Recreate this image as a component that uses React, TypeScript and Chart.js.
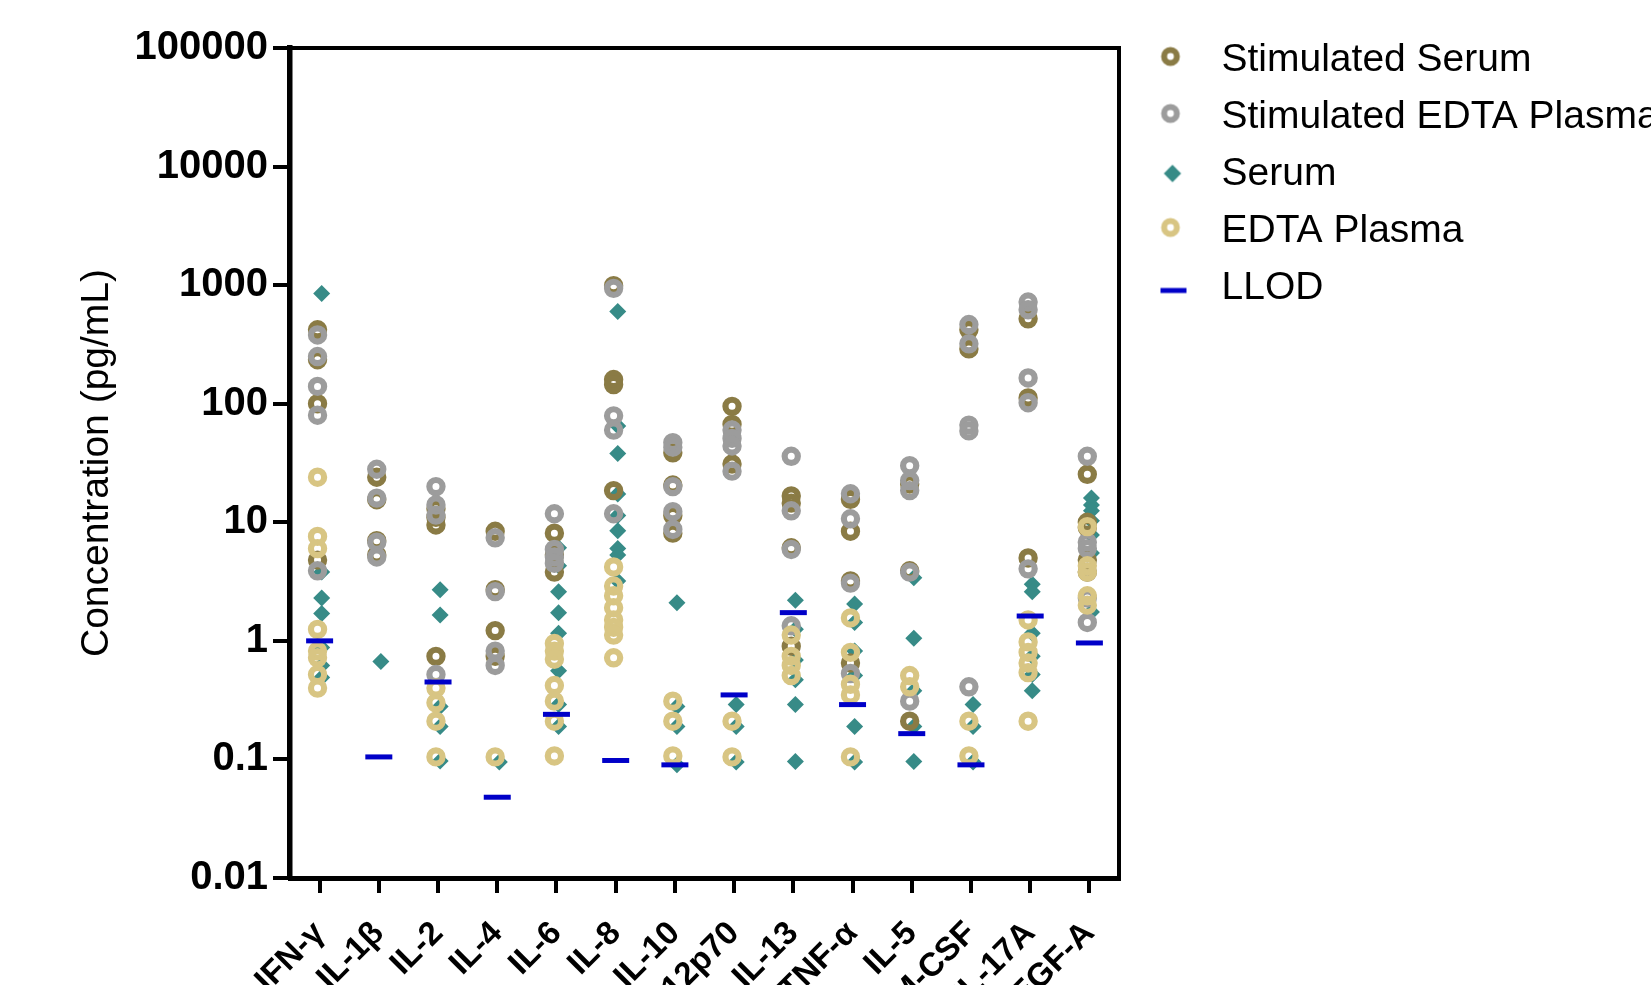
import React, { useEffect, useRef } from 'react';
import { Chart, registerables } from 'chart.js';

Chart.register(...registerables);

const CATEGORIES = ['IFN-γ', 'IL-1β', 'IL-2', 'IL-4', 'IL-6', 'IL-8', 'IL-10', 'IL-12p70', 'IL-13', 'TNF-α', 'IL-5', 'GM-CSF', 'IL-17A', 'VEGF-A'];
const Y_TICKS = [0.01, 0.1, 1, 10, 100, 1000, 10000, 100000];
const Y_TICK_LABELS = ['0.01', '0.1', '1', '10', '100', '1000', '10000', '100000'];
const Y_TITLE = 'Concentration (pg/mL)';
const SERIES_NAMES = ['Stimulated Serum', 'Stimulated EDTA Plasma', 'Serum', 'EDTA Plasma', 'LLOD'];

const STIM_SERUM: number[][] = [
  [420, 235, 100, 4.8],
  [24, 15.5, 7.0, 5.3],
  [13, 11, 9.5, 0.74],
  [8.4, 2.7, 1.22, 0.74],
  [8.1, 5.3, 3.8],
  [990, 160, 145, 18.5],
  [38.5, 20.6, 11.4, 8.1],
  [95, 67, 31],
  [16.7, 14.5, 6.1, 0.9],
  [15.6, 8.4, 3.2, 0.65],
  [21, 3.9, 0.21],
  [420, 290],
  [520, 112, 5.0],
  [25.4, 10, 9, 4.8, 3.8],
];

const STIM_EDTA: number[][] = [
  [380, 250, 140, 80, 3.9],
  [28, 16, 6.8, 5.1],
  [20, 14, 11.5, 0.52],
  [7.4, 2.6, 0.82, 0.62],
  [11.8, 5.9, 5.1, 4.5],
  [940, 79, 60, 11.8],
  [47, 43, 20, 12.3, 8.7],
  [60, 51, 44, 27],
  [36, 12.5, 5.9, 1.34],
  [17.4, 10.7, 3.07, 0.53],
  [30, 22.5, 18.5, 3.8, 0.31],
  [465, 320, 66, 59, 0.41],
  [720, 620, 165, 102, 4.05],
  [36, 6.8, 6.0, 2.3, 1.43],
];

const SERUM: number[][] = [
  [850, 3.8, 2.3, 1.7, 0.88, 0.62, 0.49],
  [0.67],
  [2.7, 1.65, 0.28, 0.19, 0.097],
  [0.095],
  [6.1, 4.3, 2.6, 1.73, 1.16, 0.56, 0.29, 0.19],
  [600, 65, 38, 17.3, 11.4, 8.5, 6.0, 5.3, 3.2],
  [2.1, 0.28, 0.19, 0.09],
  [0.29, 0.19, 0.095],
  [2.2, 1.25, 0.69, 0.47, 0.29, 0.096],
  [2.05, 1.43, 0.82, 0.51, 0.19, 0.095],
  [3.4, 1.05, 0.38, 0.19, 0.096],
  [0.29, 0.19, 0.095],
  [3.0, 2.6, 1.16, 0.74, 0.52, 0.38],
  [16, 14, 12.5, 10.3, 7.8, 5.5, 1.75],
];

const EDTA: number[][] = [
  [24, 7.6, 6.0, 1.25, 0.82, 0.72, 0.52, 0.4],
  [],
  [0.4, 0.3, 0.21, 0.105],
  [0.105],
  [0.95, 0.82, 0.7, 0.42, 0.31, 0.21, 0.107],
  [4.2, 2.9, 2.4, 1.9, 1.5, 1.3, 1.12, 0.72],
  [0.31, 0.21, 0.107],
  [0.21, 0.105],
  [1.12, 0.74, 0.62, 0.51],
  [1.56, 0.8, 0.43, 0.35, 0.105],
  [0.51, 0.41],
  [0.21, 0.107],
  [1.5, 0.98, 0.8, 0.65, 0.54, 0.21],
  [9.2, 4.3, 3.8, 2.4, 2.0],
];

const LLOD: number[] = [1.0, 0.105, 0.45, 0.048, 0.24, 0.098, 0.09, 0.35, 1.73, 0.29, 0.165, 0.09, 1.62, 0.96];

const OLIVE = '#8a7b45';
const GREY = '#9c9c9c';
const TEAL = '#378b87';
const GOLD = '#d8c583';
const BLUE = '#0000c8';
const FONT = "'Liberation Sans', Arial, Helvetica, sans-serif";

const toPoints = (rows: number[][], dx: number) =>
  rows.flatMap((vals, i) => vals.map((v) => ({ x: i + dx, y: v })));

function makeMarker(kind: string, color: string, dx: number, dy: number) {
  const c = document.createElement('canvas');
  c.width = 80;
  c.height = 40;
  const g = c.getContext('2d') as CanvasRenderingContext2D;
  const cx = 40 + dx;
  const cy = 20 + dy;
  if (kind === 'ring') {
    g.beginPath();
    g.arc(cx, cy, 6.4, 0, Math.PI * 2);
    g.lineWidth = 6;
    g.strokeStyle = color;
    g.stroke();
  } else if (kind === 'diamond') {
    g.beginPath();
    g.moveTo(cx, cy - 8.7);
    g.lineTo(cx + 8.7, cy);
    g.lineTo(cx, cy + 8.7);
    g.lineTo(cx - 8.7, cy);
    g.closePath();
    g.fillStyle = color;
    g.fill();
  } else {
    g.fillStyle = color;
    g.fillRect(cx - 13, cy - 2.5, 26, 5);
  }
  return c;
}

export default function App() {
  const ref = useRef<HTMLCanvasElement | null>(null);

  useEffect(() => {
    if (!ref.current) return;
    const markers = [
      makeMarker('ring', OLIVE, -12, -4),
      makeMarker('ring', GREY, -12, -4),
      makeMarker('diamond', TEAL, -10, -1),
      makeMarker('ring', GOLD, -12, -4),
      makeMarker('dash', BLUE, -9, 2),
    ];
    const ringBase = { pointStyle: 'circle', pointRadius: 6.6, pointBorderWidth: 6.2, pointBackgroundColor: 'rgba(0,0,0,0)', showLine: false, pointHoverRadius: 6.6 };
    const chart = new Chart(ref.current, {
      type: 'scatter',
      data: {
        datasets: [
          { ...ringBase, label: SERIES_NAMES[0], data: toPoints(STIM_SERUM, -0.035), pointBorderColor: OLIVE, order: 3 },
          { ...ringBase, label: SERIES_NAMES[1], data: toPoints(STIM_EDTA, -0.035), pointBorderColor: GREY, order: 2 },
          { label: SERIES_NAMES[2], data: toPoints(SERUM, 0.035), pointStyle: 'rectRot', pointRadius: 8.5, pointBorderWidth: 0, pointBackgroundColor: TEAL, pointBorderColor: TEAL, showLine: false, order: 4 },
          { ...ringBase, label: SERIES_NAMES[3], data: toPoints(EDTA, -0.035), pointBorderColor: GOLD, order: 1 },
          { label: SERIES_NAMES[4], data: LLOD.map((v, i) => ({ x: i, y: v })), pointStyle: 'line', pointRadius: 13.5, pointBorderWidth: 5, pointBorderColor: BLUE, pointBackgroundColor: BLUE, showLine: false, order: 0 },
        ] as any,
      },
      options: {
        animation: false,
        responsive: false,
        events: [],
        layout: { padding: { top: 23, left: 0, right: 0, bottom: 0 } },
        plugins: {
          tooltip: { enabled: false },
          legend: {
            position: 'right',
            align: 'start',
            maxWidth: 506,
            labels: {
              usePointStyle: true,
              boxWidth: 39,
              boxHeight: 39,
              padding: 18,
              color: '#000',
              font: { size: 39, family: FONT },
              generateLabels: () =>
                SERIES_NAMES.map((name, i) => ({
                  text: name,
                  fillStyle: 'rgba(0,0,0,0)',
                  strokeStyle: 'rgba(0,0,0,0)',
                  lineWidth: 0,
                  pointStyle: markers[i],
                  hidden: false,
                  datasetIndex: i,
                  fontColor: '#000',
                })) as any,
            },
          },
        },
        scales: {
          x: {
            type: 'linear',
            position: 'bottom',
            min: -0.5,
            max: 13.5,
            afterBuildTicks: (axis: any) => {
              axis.ticks = CATEGORIES.map((_, i) => ({ value: i }));
            },
            afterFit: (s: any) => {
              s.height = 107;
            },
            ticks: {
              autoSkip: false,
              minRotation: 45,
              maxRotation: 45,
              padding: 21,
              color: '#000',
              font: { size: 33, weight: 'bold', family: FONT },
              callback: (v: any) => CATEGORIES[Math.round(Number(v))],
            },
            grid: { drawOnChartArea: false, tickLength: 15, tickWidth: 4, tickColor: '#000', lineWidth: 4 },
            border: { display: true, width: 5, color: '#000' },
          },
          xTop: {
            type: 'linear',
            position: 'top',
            min: -0.5,
            max: 13.5,
            ticks: { display: false },
            grid: { drawOnChartArea: false, drawTicks: false, lineWidth: 4 },
            border: { display: true, width: 4, color: '#000' },
            afterFit: (s: any) => {
              s.height = 25;
            },
          },
          y: {
            type: 'logarithmic',
            position: 'left',
            min: 0.01,
            max: 100000,
            afterBuildTicks: (axis: any) => {
              axis.ticks = Y_TICKS.map((v) => ({ value: v }));
            },
            afterFit: (s: any) => {
              s.width = 290;
            },
            ticks: {
              autoSkip: false,
              padding: 5,
              color: '#000',
              font: { size: 40, weight: 'bold', family: FONT },
              callback: (_v: any, i: number) => Y_TICK_LABELS[i],
            },
            grid: { drawOnChartArea: false, tickLength: 17, tickWidth: 4, tickColor: '#000', lineWidth: 4 },
            border: { display: true, width: 5.5, color: '#000' },
            title: {
              display: true,
              text: Y_TITLE,
              color: '#000',
              font: { size: 39, family: FONT },
              padding: { top: 74, bottom: 0 },
            },
          },
          yRight: {
            type: 'linear',
            position: 'right',
            ticks: { display: false },
            grid: { drawOnChartArea: false, drawTicks: false, lineWidth: 4 },
            border: { display: true, width: 4, color: '#000' },
            afterFit: (s: any) => {
              s.width = 26;
            },
          },
        },
      } as any,
    });
    return () => chart.destroy();
  }, []);

  return (
    <div style={{ position: 'fixed', left: 0, top: 0, width: 1651, height: 985, background: '#fff' }}>
      <canvas ref={ref} width={1651} height={985} style={{ display: 'block', width: 1651, height: 985 }} />
    </div>
  );
}
